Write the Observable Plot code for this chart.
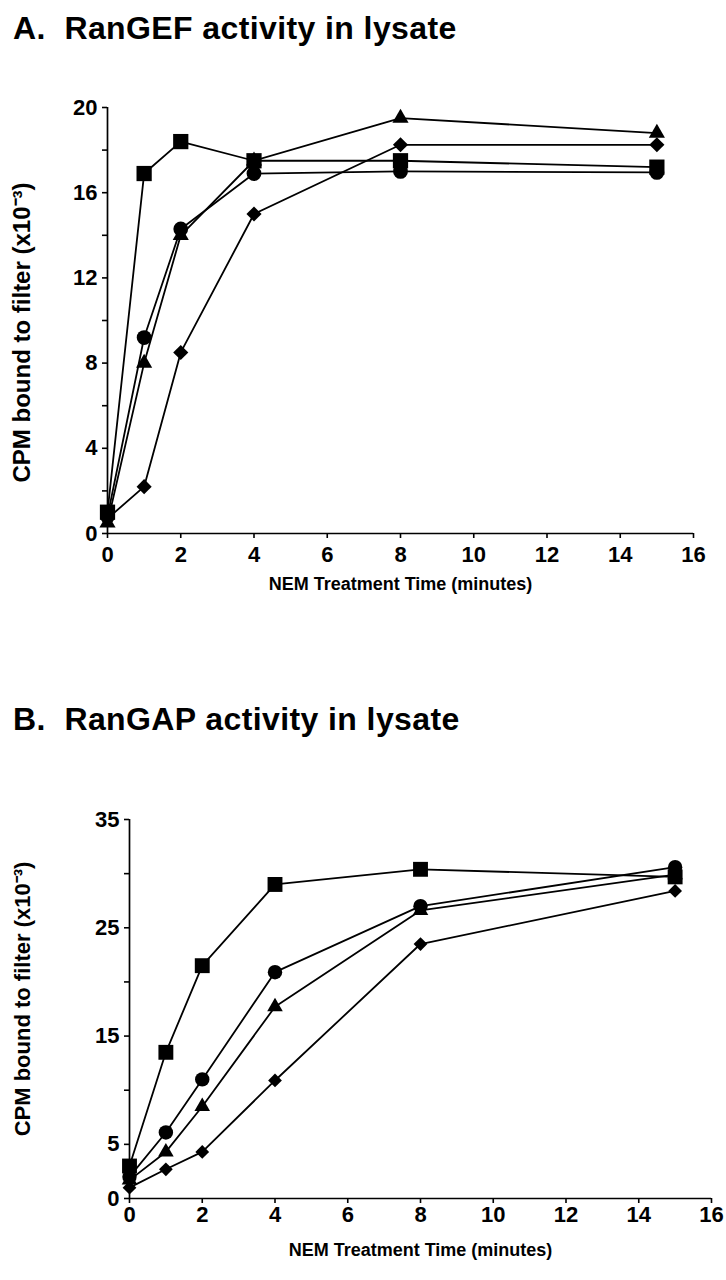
<!DOCTYPE html>
<html><head><meta charset="utf-8">
<script src="https://cdn.jsdelivr.net/npm/d3@7"></script>
<script src="https://cdn.jsdelivr.net/npm/@observablehq/plot@0.6"></script>
<style>
body{margin:0;background:#fff;}
#wrap{position:relative;width:726px;height:1280px;overflow:hidden;font-family:"Liberation Sans",Arial,sans-serif;}
.title{position:absolute;left:13px;font-weight:bold;font-size:32px;line-height:32px;letter-spacing:0.4px;white-space:pre;color:#000;}
.chart{position:absolute;left:0;}
.chart svg g[aria-label*="axis"] line, .chart svg g[aria-label*="axis"] path{stroke-width:1.6px;}
</style></head><body>
<div id="wrap">
<div class="chart" id="cA" style="top:0px"></div>
<div class="chart" id="cB" style="top:760px"></div>
<div class="title" id="tA" style="top:12px">A.  RanGEF activity in lysate</div>
<div class="title" id="tB" style="top:703px">B.  RanGAP activity in lysate</div>
</div>
<script>
// ---- data ----
const times = [0, 1, 2, 4, 8, 15];
const seriesNames = ["square", "circle", "triangle", "diamond"];
const seriesSymbols = ["square", "circle", "triangle", "diamond2"];

// Panel A: RanGEF activity (CPM x10^-3)
const gefSquare   = [1.0, 16.9, 18.4, 17.5, 17.5, 17.2];
const gefCircle   = [0.8, 9.2, 14.3, 16.9, 17.0, 16.95];
const gefTriangle = [0.5, 8.0, 14.0, 17.5, 19.5, 18.8];
const gefDiamond  = [0.7, 2.2, 8.5, 15.0, 18.25, 18.25];

// Panel B: RanGAP activity (CPM x10^-3)
const gapSquare   = [3.0, 13.5, 21.5, 29.0, 30.4, 29.7];
const gapCircle   = [2.0, 6.1, 11.0, 20.9, 27.0, 30.6];
const gapTriangle = [1.7, 4.3, 8.5, 17.7, 26.6, 29.9];
const gapDiamond  = [1.0, 2.7, 4.3, 10.9, 23.5, 28.4];

// ticks
const xTicks = [0, 2, 4, 6, 8, 10, 12, 14, 16];
const yTicksA = [0, 2, 4, 6, 8, 10, 12, 14, 16, 18, 20];
const yLabelsA = [0, 4, 8, 12, 16, 20];
const yTicksB = [0, 5, 10, 15, 20, 25, 30, 35];
const yLabelsB = [0, 5, 15, 25, 35];

const xTitle = "NEM Treatment Time (minutes)";
const yTitle = "CPM bound to filter (x10\u207B\u00B3)";
const TICK_FONT = 22;

function makePanel(vals, cfg) {
  const rows = [];
  seriesNames.forEach((name, i) => times.forEach((t, j) => rows.push({t, v: vals[i][j], s: name})));
  const dots = seriesNames.map((name, i) =>
    Plot.dot(rows.filter(r => r.s === name), {
      x: "t", y: "v", symbol: seriesSymbols[i], r: cfg.r[i], fill: "#000", stroke: "none"
    }));
  const svg = Plot.plot({
    width: 726, height: cfg.height,
    marginTop: cfg.mt, marginBottom: cfg.mb, marginLeft: cfg.ml, marginRight: cfg.mr,
    style: {fontFamily: "Liberation Sans, Arial, sans-serif", fontSize: TICK_FONT + "px", fontWeight: "bold", color: "#000", background: "transparent", overflow: "visible"},
    x: {domain: [0, 16], ticks: xTicks, tickSize: 5, tickPadding: cfg.xPad, label: null},
    y: {domain: cfg.ydom, ticks: cfg.yTicks, tickSize: 5, tickPadding: cfg.yPad, label: null,
        tickFormat: d => cfg.yLabels.includes(d) ? String(d) : ""},
    marks: [
      Plot.ruleX([0], {stroke: "#000", strokeWidth: 1.7}),
      Plot.ruleY([0], {stroke: "#000", strokeWidth: 1.7}),
      Plot.line(rows, {x: "t", y: "v", z: "s", stroke: "#000", strokeWidth: 1.8}),
      ...dots,
      Plot.text([xTitle], {text: d => d, frameAnchor: "bottom", textAnchor: "middle", lineAnchor: "middle",
        dy: cfg.xTitleDy, fontSize: 18, fontWeight: "bold", fill: "#000"}),
      Plot.text([yTitle], {text: d => d, frameAnchor: "left", textAnchor: "middle", lineAnchor: "middle",
        rotate: -90, dx: cfg.yTitleDx, dy: cfg.yTitleDy, fontSize: cfg.yTitleSize, fontWeight: "bold", fill: "#000"})
    ]
  });
  // enlarge the tick labels: every text that isn't one of the two titles
  d3.select(svg).selectAll("text").each(function() {
    const t = this.textContent;
    if (t !== xTitle && t !== yTitle) d3.select(this).style("font-size", TICK_FONT + "px");
  });
  return svg;
}

document.getElementById("cA").appendChild(makePanel(
  [gefSquare, gefCircle, gefTriangle, gefDiamond],
  {height: 600, mt: 107, mb: 67, ml: 107, mr: 33, ydom: [0, 20], yTicks: yTicksA, yLabels: yLabelsA,
   xPad: 8, yPad: 5, xTitleDy: 51, yTitleDx: -85, yTitleDy: 12, yTitleSize: 24, r: [8.6, 7.4, 6.0, 6.8]}
));
document.getElementById("cB").appendChild(makePanel(
  [gapSquare, gapCircle, gapTriangle, gapDiamond],
  {height: 520, mt: 59, mb: 82, ml: 129, mr: 15, ydom: [0, 35], yTicks: yTicksB, yLabels: yLabelsB,
   xPad: 3, yPad: 5, xTitleDy: 52, yTitleDx: -107, yTitleDy: -10, yTitleSize: 22, r: [8.4, 7.2, 5.8, 6.2]}
));
</script>
</body></html>
